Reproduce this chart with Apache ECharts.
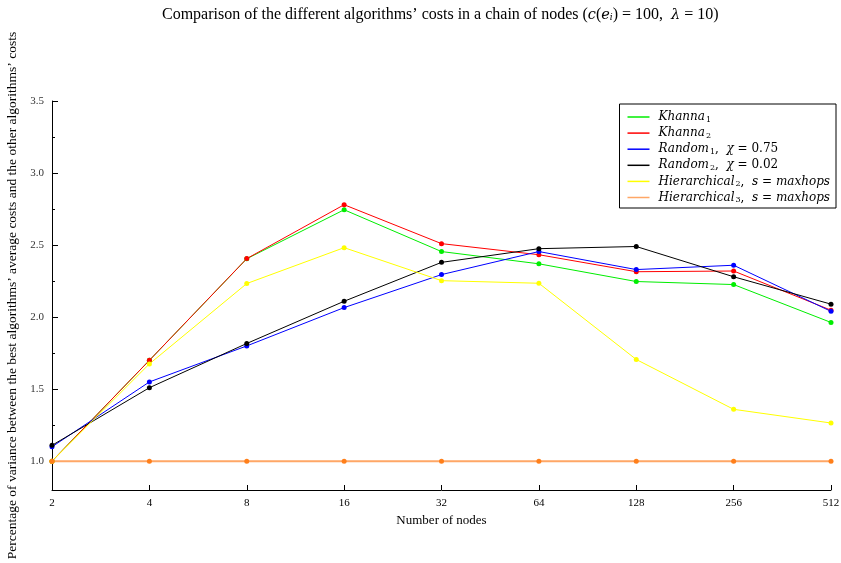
<!DOCTYPE html>
<html>
<head>
<meta charset="utf-8">
<script src="https://cdn.jsdelivr.net/npm/echarts@6/dist/echarts.min.js"></script>
<style>
  html, body { margin: 0; padding: 0; background: #fff; }
  #chart { width: 841px; height: 563px; }
</style>
</head>
<body>
<div id="chart"></div>
<script>
// Chain size (number of nodes) on the x axis
const nodeCounts = ['2', '4', '8', '16', '32', '64', '128', '256', '512'];

// Ratio of each algorithm's average cost to the best one
const khanna1 = [1.00, 1.70, 2.405, 2.745, 2.455, 2.37, 2.247, 2.226, 1.963];
const khanna2 = [1.00, 1.70, 2.406, 2.78, 2.51, 2.433, 2.315, 2.32, 2.048];
const random1 = [1.10, 1.55, 1.80, 2.066, 2.295, 2.455, 2.33, 2.36, 2.04];
const random2 = [1.11, 1.51, 1.817, 2.11, 2.38, 2.475, 2.49, 2.28, 2.09];
const hierarchical2 = [1.00, 1.675, 2.233, 2.482, 2.253, 2.235, 1.706, 1.36, 1.265];
const hierarchical3 = [1.00, 1.00, 1.00, 1.00, 1.00, 1.00, 1.00, 1.00, 1.00];

const yTickValues = [1.0, 1.5, 2.0, 2.5, 3.0, 3.5];
const yMinorValues = [1.25, 1.75, 2.25, 2.75, 3.25];

const serif = '"Liberation Serif", "DejaVu Serif", serif';
const mathItalic = '"DejaVu Serif", "Liberation Serif", serif';

const seriesDefs = [
  { name: 'Khanna1', data: khanna1, color: '#00ee00', rich: '{i|Khanna}{s|1}' },
  { name: 'Khanna2', data: khanna2, color: '#ff0000', rich: '{i|Khanna}{s|2}' },
  { name: 'Random1', data: random1, color: '#0000ff', rich: '{i|Random}{s|1}{n|,  }{i|χ}{n| = 0.75}' },
  { name: 'Random2', data: random2, color: '#000000', rich: '{i|Random}{s|2}{n|,  }{i|χ}{n| = 0.02}' },
  { name: 'Hierarchical2', data: hierarchical2, color: '#ffff00', rich: '{i|Hierarchical}{s|2}{n|,  }{i|s}{n| = }{i|maxhops}' },
  { name: 'Hierarchical3', data: hierarchical3, color: '#ffa766', marker: '#ff7f1a', width: 2, rich: '{i|Hierarchical}{s|3}{n|,  }{i|s}{n| = }{i|maxhops}' }
];

const richStyles = {
  n: { fontFamily: mathItalic, fontSize: 12, color: '#000' },
  i: { fontFamily: mathItalic, fontSize: 12, fontStyle: 'italic', color: '#000' },
  s: { fontFamily: mathItalic, fontSize: 8, color: '#000', padding: [5, 0, 0, 1] }
};

const chart = echarts.init(document.getElementById('chart'), null, { renderer: 'canvas' });

chart.setOption({
  animation: false,
  backgroundColor: '#fff',
  title: {
    text: '{n|Comparison of the different algorithms’ costs in a chain of nodes (}{i|c}{n|(}{i|e}{s|i}{n|) = 100,  }{i|λ}{n| = 10)}',
    left: 162,
    top: 7,
    padding: 0,
    textStyle: {
      fontWeight: 'normal',
      rich: {
        n: { fontFamily: serif, fontSize: 16, fontWeight: 'normal', color: '#000' },
        i: { fontFamily: mathItalic, fontSize: 14.5, fontWeight: 'normal', fontStyle: 'italic', color: '#000' },
        s: { fontFamily: mathItalic, fontSize: 9, fontWeight: 'normal', fontStyle: 'italic', color: '#000', padding: [6, 0, 0, 0] }
      }
    }
  },
  legend: {
    right: 5,
    top: 104,
    orient: 'vertical',
    backgroundColor: '#fff',
    borderColor: '#000',
    borderWidth: 1,
    borderRadius: 0,
    padding: [7, 6, 4, 8],
    itemGap: 3.6,
    itemWidth: 22,
    itemHeight: 1.5,
    icon: 'rect',
    align: 'left',
    data: seriesDefs.map(d => ({ name: d.name, itemStyle: { color: d.color } })),
    formatter: name => seriesDefs.find(d => d.name === name).rich,
    textStyle: { rich: richStyles, padding: [0, 0, 0, 4] }
  },
  grid: { left: 52, right: 10, top: 101, bottom: 73, outerBoundsMode: 'none', containLabel: false },
  xAxis: {
    type: 'category',
    data: nodeCounts,
    boundaryGap: false,
    name: 'Number of nodes',
    nameLocation: 'middle',
    nameGap: 22,
    nameTextStyle: { fontFamily: serif, fontSize: 13, color: '#000' },
    axisLine: { lineStyle: { color: '#000', width: 1 } },
    axisTick: { inside: true, length: 5, lineStyle: { color: '#000' } },
    axisLabel: { fontFamily: serif, fontSize: 11, color: '#000', margin: 8 },
    splitLine: { show: false }
  },
  yAxis: [
    {
      type: 'value',
      min: 0.8,
      max: 3.5,
      name: 'Percentage of variance between the best algorithms’ average costs and the other algorithms’ costs',
      nameLocation: 'middle',
      nameGap: 27,
      nameTextStyle: { fontFamily: serif, fontSize: 13.5, color: '#000' },
      axisLine: { show: true, lineStyle: { color: '#000', width: 1 } },
      axisTick: { show: true, inside: true, length: 6, customValues: yTickValues, lineStyle: { color: '#000' } },
      axisLabel: {
        fontFamily: serif, fontSize: 11, color: '#333', margin: 8,
        customValues: yTickValues,
        formatter: v => v.toFixed(1)
      },
      splitLine: { show: false }
    },
    {
      type: 'value',
      min: 0.8,
      max: 3.5,
      position: 'left',
      axisLine: { show: false },
      axisTick: { show: true, inside: true, length: 3, customValues: yMinorValues, lineStyle: { color: '#000' } },
      axisLabel: { show: false },
      splitLine: { show: false }
    }
  ],
  series: seriesDefs.map(d => ({
    name: d.name,
    type: 'line',
    data: d.data,
    yAxisIndex: 0,
    symbol: 'circle',
    symbolSize: 5,
    showSymbol: true,
    lineStyle: { color: d.color, width: d.width || 1 },
    itemStyle: { color: d.marker || d.color },
    emphasis: { disabled: true },
    z: 2
  }))
});
</script>
</body>
</html>
